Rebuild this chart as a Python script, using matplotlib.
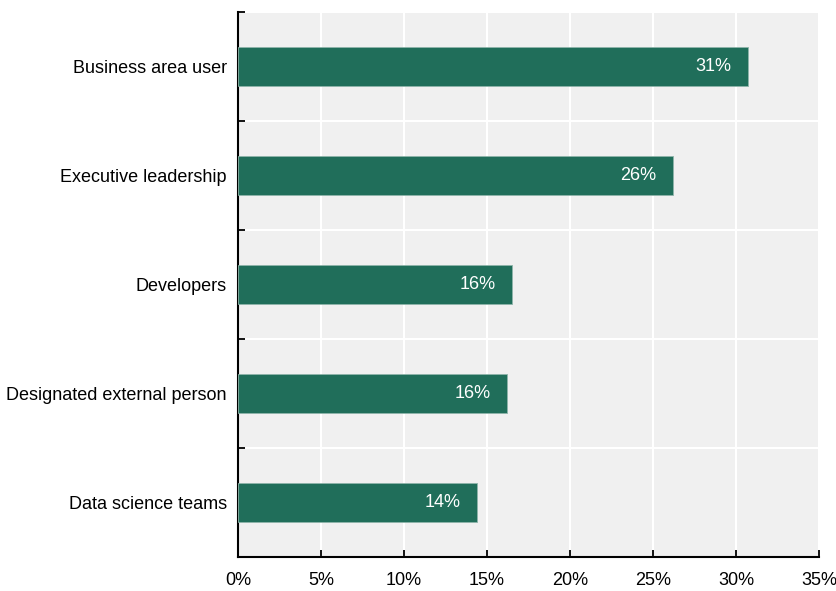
import numpy as np
import matplotlib.pyplot as plt
from matplotlib.ticker import FixedLocator, PercentFormatter

plt.rcParams['font.family'] = ['Liberation Sans Narrow', 'Liberation Sans', 'DejaVu Sans']
plt.rcParams['font.size'] = 13

categories = ['Business area user', 'Executive leadership', 'Developers',
              'Designated external person', 'Data science teams']
shares = [30.7, 26.2, 16.5, 16.2, 14.4]

bar_color = '#206e5a'
panel_color = '#f0f0f0'

fig = plt.figure(figsize=(8.37, 5.91), dpi=100)
ax = fig.add_axes([0.2844, 0.0575, 0.6941, 0.9222])
ax.set_facecolor(panel_color)

ypos = np.arange(len(categories))[::-1]
bars = ax.barh(ypos, shares, height=0.36, color=bar_color,
               edgecolor='#8fb5aa', linewidth=0.6, zorder=3)

for rect, val in zip(bars, shares):
    ax.annotate(f'{val:.0f}%', xy=(rect.get_width(), rect.get_y() + rect.get_height() / 2),
                xytext=(-12, 0), textcoords='offset points',
                ha='right', va='center', color='white', zorder=4)

ax.set_xlim(0, 35)
ax.set_ylim(-0.5, len(categories) - 0.5)
ax.xaxis.set_major_locator(FixedLocator(np.arange(0, 36, 5)))
ax.xaxis.set_major_formatter(PercentFormatter(decimals=0))

# category labels on minor ticks, boundary ticks on major ones
ax.yaxis.set_major_locator(FixedLocator(np.arange(-0.5, len(categories), 1.0)))
ax.yaxis.set_major_formatter(plt.NullFormatter())
ax.set_yticks(ypos, minor=True)
ax.set_yticklabels(categories, minor=True)
ax.tick_params(axis='y', which='minor', length=0, pad=8)
ax.tick_params(axis='y', which='major', direction='in', length=5, width=1.3)
ax.tick_params(axis='x', direction='in', length=5, width=1.3, pad=11)

ax.grid(True, which='major', color='white', linewidth=1.5, zorder=1)
ax.set_axisbelow(True)

for side in ('top', 'right'):
    ax.spines[side].set_visible(False)
for side in ('left', 'bottom'):
    ax.spines[side].set_linewidth(1.5)
    ax.spines[side].set_color('black')

fig.savefig('out.png', dpi=100)
